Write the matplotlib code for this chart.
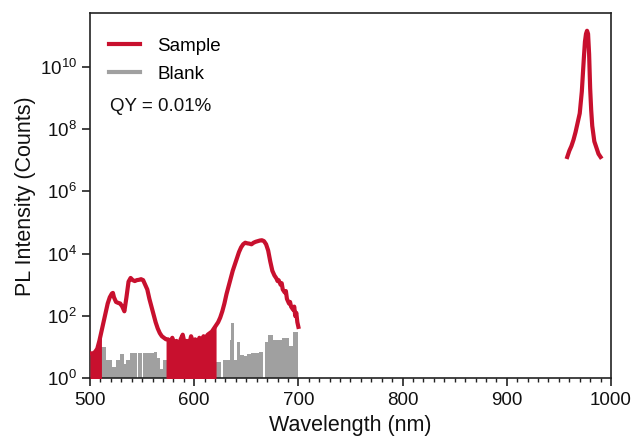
import numpy as np
import matplotlib
matplotlib.use("Agg")
import matplotlib.pyplot as plt
from matplotlib.ticker import FixedLocator, NullLocator, MultipleLocator

plt.rcParams['font.family'] = ['Liberation Sans', 'DejaVu Sans']
plt.rcParams['mathtext.fontset'] = 'custom'
plt.rcParams['mathtext.rm'] = 'Liberation Sans'

# ---- Sample spectrum (visible region), counts ----
sample_wl = [500, 503, 505, 507, 509, 511, 513, 515, 517, 519, 521, 522, 523, 525, 527, 529,
             531, 533, 535, 537, 539, 541, 543, 545, 547, 549, 551, 553, 555, 557, 559, 561,
             563, 565, 567, 569, 571, 573, 575, 577, 579, 581, 583, 585, 587, 589, 591, 593,
             595, 597, 599, 601, 603, 605, 607, 609, 611, 613, 615, 617, 619, 621, 623, 625,
             627, 629, 631, 633, 635, 637, 639, 641, 643, 645, 647, 649, 651, 653, 655, 657,
             659, 661, 663, 665, 667, 669, 671, 673, 675, 677, 679, 680, 681, 683, 684, 685,
             687, 688, 689, 691, 692, 693, 695, 696, 697, 698, 699, 700]
sample_log = [0.8, 0.8, 0.85, 0.95, 1.2, 1.5, 1.8, 2.1, 2.4, 2.6, 2.72, 2.74, 2.6, 2.45, 2.42, 2.4,
              2.3, 2.15, 2.6, 3.1, 3.22, 3.15, 3.12, 3.15, 3.16, 3.18, 3.15, 3.0, 2.85, 2.55, 2.3, 2.05,
              1.8, 1.6, 1.45, 1.35, 1.3, 1.25, 1.25, 1.15, 1.3, 1.1, 1.2, 1.0, 1.25, 1.4, 1.1, 1.2,
              1.05, 1.35, 1.15, 1.25, 1.1, 1.3, 1.2, 1.35, 1.3, 1.4, 1.45, 1.5, 1.6, 1.7, 1.8, 1.95,
              2.15, 2.4, 2.7, 2.95, 3.2, 3.45, 3.65, 3.85, 4.05, 4.2, 4.3, 4.35, 4.33, 4.32, 4.3, 4.35,
              4.38, 4.4, 4.42, 4.43, 4.4, 4.3, 4.1, 3.75, 3.45, 3.3, 3.2, 3.12, 3.15, 3.0, 3.05, 2.85,
              2.75, 2.8, 2.55, 2.4, 2.45, 2.3, 2.2, 2.3, 2.0, 2.1, 1.8, 1.65]
sample_counts = [10 ** v for v in sample_log]

# ---- Sample spectrum (NIR peak), counts ----
nir_wl = [958, 960, 962, 964, 966, 968, 970, 972, 974, 975, 976, 977, 978, 979, 980, 981,
          982, 984, 986, 988, 990]
nir_log = [7.1, 7.3, 7.45, 7.65, 7.9, 8.2, 8.5, 9.2, 10.3, 10.8, 11.05, 11.15, 11.05, 10.4, 9.3, 8.6,
           8.1, 7.6, 7.4, 7.2, 7.1]
nir_counts = [10 ** v for v in nir_log]

# noisy (filled) wavelength ranges of the sample
noisy_ranges = [(500, 511), (573, 621)]

# ---- Blank spectrum (binned), counts ----
blank_edges = [511, 515.5, 521, 525, 529, 532.5, 535, 538, 545, 545.7, 550, 550.7, 555, 561, 564,
               567, 570, 573, 620, 626, 628, 634, 635.5, 638.5, 641, 644, 648, 651, 655, 659,
               662, 666, 668, 671, 676, 680, 684, 688, 691, 695, 700]
blank_log = [1.0, 0.6, 0.37, 0.6, 0.77, 0.45, 0.6, 0.82, -3, 0.82, -3, 0.82, 0.82, 0.85, 0.65,
             0.3, 0.6, 0.6, 0.53, -3, 0.6, 1.22, 1.77, 0.6, 1.17, 0.74, 0.72, 0.78, 0.8, 0.8,
             0.85, -3, 1.17, 1.39, 1.22, 1.22, 1.3, 1.3, 1.03, 1.5]
blank_counts = [10 ** v for v in blank_log]

RED = '#c8102e'
GRAY = '#a0a0a0'

fig = plt.figure(figsize=(6.31, 4.36), dpi=100)
ax = fig.add_axes([0.1426, 0.1323, 0.8257, 0.8372])

# Blank bars
lefts = blank_edges[:-1]
widths = np.diff(blank_edges)
ax.bar(lefts, blank_counts, width=widths, align='edge', bottom=1e-2,
       color=GRAY, edgecolor='none', linewidth=0, zorder=2)

# Sample noisy filled regions
swl = np.array(sample_wl)
sc = np.array(sample_counts)
for lo, hi in noisy_ranges:
    m = (swl >= lo) & (swl <= hi)
    ax.fill_between(swl[m], 1e-2, sc[m], color=RED, linewidth=0, zorder=3)

ax.plot(sample_wl, sample_counts, color=RED, lw=3.0, zorder=4, label='Sample')
ax.plot(nir_wl, nir_counts, color=RED, lw=3.0, zorder=4)
ax.plot([], [], color=GRAY, lw=3.0, label='Blank')

ax.set_yscale('log')
ax.set_xlim(500, 1000)
ax.set_ylim(1, 10 ** 11.71)
ax.yaxis.set_major_locator(FixedLocator([10 ** k for k in range(0, 11, 2)]))
ax.yaxis.set_minor_locator(NullLocator())
ax.set_yticklabels([r'$\mathregular{10^{%d}}$' % k for k in range(0, 11, 2)])
ax.xaxis.set_major_locator(MultipleLocator(100))
ax.xaxis.set_minor_locator(MultipleLocator(10))

ax.tick_params(axis='both', which='major', direction='out', length=6, width=1.2,
               labelsize=13.5, color='#222222', labelcolor='#111111')
ax.tick_params(axis='x', which='minor', direction='out', length=3, width=1.0, color='#222222')
for s in ax.spines.values():
    s.set_linewidth(1.2)
    s.set_color('#222222')

ax.set_xlabel('Wavelength (nm)', fontsize=15.5, labelpad=5, color='#111111')
ax.set_ylabel('PL Intensity (Counts)', fontsize=15.5, labelpad=3, color='#111111')

leg = ax.legend(loc='upper left', frameon=False, fontsize=13.5, handlelength=1.65,
                handletextpad=0.9, labelspacing=0.6, bbox_to_anchor=(0.005, 0.98))
ax.text(0.038, 0.745, 'QY = 0.01%', transform=ax.transAxes, fontsize=13.5,
        color='#111111', va='center', ha='left')

fig.savefig('out.png', dpi=100)
